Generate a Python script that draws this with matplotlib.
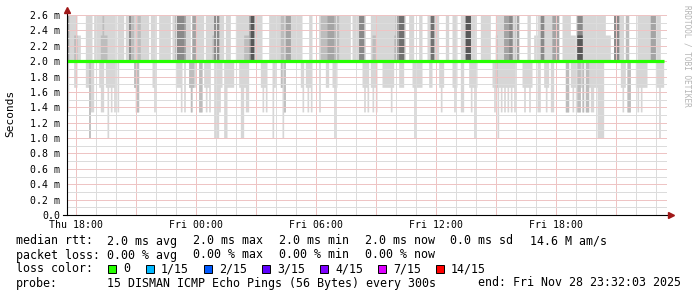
import numpy as np
import matplotlib.pyplot as plt
from matplotlib.patches import Rectangle

# --- data: SmokePing, 15 pings every 300 s, values in ms ---
n_pings = 15
n_steps = 358                 # 5 minute steps that hold data
t_start = 17.55               # hours since Thu 00:00 (Thu 17:33)
step_h = 5 / 60
median_ms = 2.0
ping_top = 2.8                # pings above the graph top (clipped at 2.6)

# ping values above / below the median per code
upper_sets = {'0': [], '1': [ping_top], '2': [ping_top] * 2, '3': [ping_top] * 3,
              '4': [ping_top] * 4, '5': [ping_top] * 5, '6': [ping_top] * 6,
              'a': [2.34], 'c': [2.34, ping_top], 'd': [2.34] * 2 + [ping_top] * 4}
lower_sets = {'0': [], '1': [1.66], '2': [1.34], '3': [1.0],
              'a': [1.66, 1.66], 'e': [1.34, 1.34], 'f': [1.0, 1.0]}

# (first step, code) runs
upper_runs = [(0, '3'), (1, '1'), (4, 'c'), (6, 'a'), (8, '0'), (11, '1'), (15, '0'), (16, '1'),
              (20, 'c'), (21, '2'), (22, 'c'), (24, '1'), (29, '0'), (30, '1'), (34, '0'), (35, '1'),
              (37, '4'), (38, '2'), (40, '1'), (42, '2'), (44, '1'), (49, '0'), (50, '1'), (53, '0'),
              (55, '1'), (62, '0'), (63, '1'), (65, '4'), (70, '3'), (71, '1'), (74, '0'), (75, '3'),
              (77, '1'), (82, '0'), (83, '1'), (87, 'c'), (88, '4'), (91, '1'), (94, '0'), (95, '1'),
              (98, '0'), (101, '1'), (106, 'c'), (109, '3'), (110, '6'), (112, '1'), (117, '0'),
              (121, '1'), (128, '2'), (130, '1'), (131, '3'), (134, '1'), (141, '0'), (145, '1'),
              (147, '0'), (151, '1'), (152, '2'), (156, '3'), (160, '2'), (163, '1'), (170, '0'),
              (171, '1'), (175, '4'), (178, '1'), (179, '0'), (182, '1'), (183, 'c'), (185, '1'),
              (196, 'c'), (197, '3'), (199, '5'), (202, '1'), (203, '0'), (205, '1'), (208, '0'),
              (211, '1'), (213, '0'), (216, '1'), (218, '5'), (220, '1'), (223, '0'), (227, '1'),
              (229, '0'), (231, '1'), (234, '0'), (236, '1'), (239, '6'), (242, '1'), (245, '0'),
              (248, '1'), (254, '0'), (257, 'c'), (258, '1'), (262, '3'), (265, '4'), (267, '1'),
              (269, '3'), (271, '0'), (276, '1'), (278, '0'), (280, 'a'), (282, '1'), (284, '4'),
              (286, '1'), (291, '3'), (295, '0'), (297, '1'), (302, 'a'), (305, '0'), (306, 'd'),
              (309, '1'), (323, 'a'), (326, '0'), (328, '4'), (331, '1'), (334, '0'), (335, '2'),
              (337, '0'), (342, '1'), (350, '3'), (353, '1'), (356, '0')]
lower_runs = [(0, '2'), (1, '0'), (4, '1'), (6, '0'), (11, '1'), (13, 'f'), (14, '2'), (16, '0'),
              (19, '1'), (20, '2'), (22, '0'), (23, '1'), (24, '3'), (25, '1'), (26, '2'), (27, '1'),
              (28, '2'), (29, '0'), (30, '2'), (31, '0'), (40, 'a'), (41, 'e'), (43, '0'), (51, '1'),
              (52, '2'), (53, '0'), (65, '1'), (68, '2'), (69, '0'), (70, '2'), (71, '0'), (73, 'a'),
              (74, 'e'), (75, 'a'), (76, '1'), (77, '0'), (79, 'e'), (81, '0'), (82, '1'), (83, '2'),
              (84, '1'), (85, '2'), (86, '0'), (88, '3'), (91, '2'), (92, '1'), (93, '0'), (94, '3'),
              (96, '1'), (100, '0'), (103, '1'), (104, '3'), (106, '1'), (107, '2'), (109, '0'),
              (116, '1'), (117, '2'), (118, '1'), (119, '2'), (120, '0'), (123, '3'), (124, '1'),
              (125, '0'), (128, 'a'), (129, '3'), (130, 'e'), (131, '0'), (140, '1'), (141, '2'),
              (142, '0'), (143, '1'), (144, '2'), (145, '1'), (146, '2'), (147, '0'), (151, '2'),
              (152, '0'), (155, '1'), (157, '0'), (159, '1'), (160, '3'), (161, '1'), (162, '0'),
              (177, '1'), (178, '2'), (179, '1'), (180, '2'), (181, '0'), (182, '1'), (183, '2'),
              (184, '1'), (185, '2'), (186, '0'), (189, '1'), (194, '2'), (195, '1'), (196, '0'),
              (199, '1'), (202, '0'), (207, '1'), (208, '3'), (209, '1'), (213, '0'), (217, '1'),
              (219, '0'), (223, '1'), (224, '2'), (225, '1'), (226, '0'), (231, '1'), (232, '2'),
              (233, '1'), (234, '0'), (236, '2'), (238, '0'), (241, '1'), (242, '2'), (243, '1'),
              (244, '3'), (245, '1'), (246, '0'), (255, '1'), (256, '2'), (257, 'a'), (258, '3'),
              (259, '1'), (260, '2'), (261, '1'), (262, '2'), (263, '1'), (264, '2'), (265, '1'),
              (266, '2'), (267, '1'), (268, '2'), (269, '0'), (273, '1'), (274, '2'), (275, '1'),
              (277, '2'), (278, '1'), (279, '0'), (282, '2'), (284, '0'), (286, '1'), (287, '2'),
              (288, '1'), (289, '0'), (290, '2'), (292, '0'), (299, 'e'), (301, '0'), (302, '1'),
              (303, '2'), (304, '1'), (305, '2'), (306, 'e'), (308, '1'), (309, 'e'), (310, '0'),
              (311, 'e'), (313, '1'), (314, '2'), (316, '1'), (318, '3'), (322, '0'), (332, '1'),
              (333, '2'), (334, '1'), (335, '0'), (336, 'e'), (338, '0'), (341, '1'), (342, '2'),
              (343, '1'), (344, '2'), (345, '1'), (348, '0'), (353, '1'), (355, '3'), (356, '1')]

time_ticks = [18, 24, 30, 36, 42]
time_labels = ['Thu 18:00', 'Fri 00:00', 'Fri 06:00', 'Fri 12:00', 'Fri 18:00']
y_ticks = np.round(np.arange(0, 2.61, 0.2), 1)

legend_rtt = ['2.0 ms avg', '2.0 ms max', '2.0 ms min', '2.0 ms now', '0.0 ms sd', '14.6 M am/s']
legend_loss = ['0.00 % avg', '0.00 % max', '0.00 % min', '0.00 % now']
loss_labels = ['0', '1/15', '2/15', '3/15', '4/15', '7/15', '14/15']
loss_colors = ['#26ff00', '#00b8ff', '#0059ff', '#5e00ff', '#7e00ff', '#dd00ff', '#ff0000']


def expand(runs):
    codes = [''] * n_steps
    ends = [r[0] for r in runs[1:]] + [n_steps]
    for (s, c), e in zip(runs, ends):
        for k in range(s, e):
            codes[k] = c
    return codes


up = expand(upper_runs)
lo = expand(lower_runs)
pings = np.zeros((n_steps, n_pings))
for k in range(n_steps):
    below = lower_sets[lo[k]]
    above = upper_sets[up[k]]
    vals = below + [median_ms] * (n_pings - len(below) - len(above)) + above
    pings[k] = np.sort(vals)

W, H = 697, 297
mono = 'DejaVu Sans Mono'
fig = plt.figure(figsize=(W / 100, H / 100), dpi=100)
fig.patch.set_facecolor('white')
ax = fig.add_axes([67 / W, 1 - 215 / H, 600 / W, 200 / H])
ax.set_xlim(t_start, t_start + 30)
ax.set_ylim(0, 2.6)
for s in ax.spines.values():
    s.set_visible(False)

t = t_start + np.arange(n_steps + 1) * step_h

# smoke: outer bands light, inner bands dark (SmokePing style)
half = n_pings / 2
for i in range(1, int(half) + 1):
    g = int(190 / half * (half - i)) + 50
    lo_v = pings[:, i - 1]
    hi_v = pings[:, n_pings - i]
    ax.fill_between(t, np.append(lo_v, lo_v[-1]), np.append(hi_v, hi_v[-1]), step='post',
                    color=(g / 255,) * 3, lw=0, antialiased=False, zorder=1)

# grid (dotted in the original, rendered as faint lines)
grid_minor = '#dcdcdc'
grid_major = '#eec4c4'
for h in range(18, 48):
    ax.axvline(h, color=grid_major if h % 3 == 0 else grid_minor, lw=0.72,
               antialiased=False, zorder=2)
for j in range(1, 27):
    ax.axhline(j / 10, color=grid_major if j % 2 == 0 else grid_minor, lw=0.72,
               antialiased=False, zorder=2)

# median line
ax.plot(t, np.full(n_steps + 1, median_ms), drawstyle='steps-post', color='#26ff00',
        lw=2.3, solid_capstyle='butt', zorder=4)

# axes with arrows
ax.plot([-0.007, 1.004], [0, 0], transform=ax.transAxes, color='black', lw=0.8,
        clip_on=False, zorder=5)
ax.plot([0, 0], [0, 1.015], transform=ax.transAxes, color='black', lw=0.8,
        clip_on=False, zorder=5)
ax.plot([1.007], [0], marker='>', ms=4, color='#a01818', transform=ax.transAxes,
        clip_on=False, zorder=6)
ax.plot([0], [1.025], marker='^', ms=4, color='#a01818', transform=ax.transAxes,
        clip_on=False, zorder=6)

ax.set_xticks(time_ticks)
ax.set_xticklabels(time_labels, family=mono, fontsize=7.1)
ax.set_yticks(y_ticks)
ax.set_yticklabels(['0.0' if v == 0 else f'{v:.1f} m' for v in y_ticks], family=mono,
                   fontsize=7.1)
ax.tick_params(axis='x', length=0, pad=3.5)
ax.tick_params(axis='y', length=0, pad=5)

fig.text(10 / W, 1 - 113 / H, 'Seconds', rotation=90, ha='center', va='center',
         family=mono, fontsize=8)
fig.text(687 / W, 1 - 5 / H, 'RRDTOOL / TOBI OETIKER', rotation=270, ha='center', va='top',
         family=mono, fontsize=5.6, color='#b4b4b4')

# legend block
fs = 8.37
rows_y = [241, 255, 269, 283]


def txt(x, y, s):
    fig.text(x / W, 1 - y / H, s, ha='left', va='center', family=mono, fontsize=fs)


txt(16, rows_y[0], 'median rtt:')
for x, s in zip([107, 193, 279, 365, 450, 530], legend_rtt):
    txt(x, rows_y[0], s)
txt(16, rows_y[1], 'packet loss:')
for x, s in zip([107, 193, 279, 365], legend_loss):
    txt(x, rows_y[1], s)
txt(16, rows_y[2], 'loss color:')
for x, s, c in zip([108, 146, 204, 262, 320, 378, 436], loss_labels, loss_colors):
    fig.patches.append(Rectangle((x / W, 1 - (rows_y[2] + 4) / H), 8 / W, 8 / H,
                                 transform=fig.transFigure, facecolor=c, edgecolor='black',
                                 lw=0.7))
    txt(x + 15, rows_y[2], s)
txt(16, rows_y[3], 'probe:')
txt(107, rows_y[3], '15 DISMAN ICMP Echo Pings (56 Bytes) every 300s')
txt(478, rows_y[3], 'end: Fri Nov 28 23:32:03 2025')

fig.savefig('out.png', dpi=100)
